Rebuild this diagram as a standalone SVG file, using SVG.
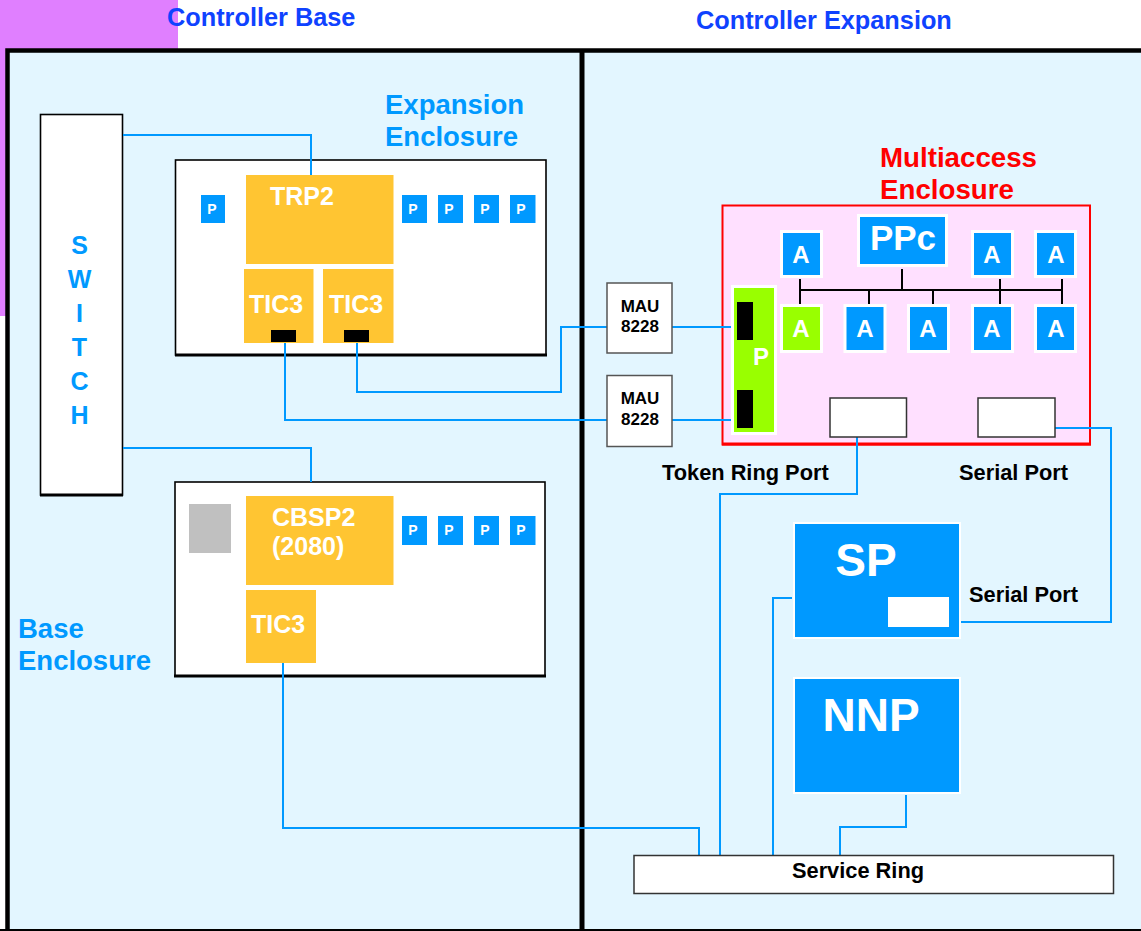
<svg xmlns="http://www.w3.org/2000/svg" width="1141" height="931" viewBox="0 0 1141 931">
<style>
text{font-family:"Liberation Sans",Arial,sans-serif;font-weight:bold}
.w{fill:#fff}.k{fill:#000}.lb{fill:#0099ff}.hd{fill:#0f42ff;font-size:25.300px}.en{fill:#0099ff;font-size:27.500px}
.box{fill:#fff;stroke:#000;stroke-width:1.600}
.or{fill:#ffc532}.bl{fill:#0099ff}.bw{fill:#0099ff;stroke:#fff;stroke-width:3}.gr{fill:#99ff00;stroke:#fff;stroke-width:3}
.bk{fill:#000}
.mau{fill:#fff;stroke:#555;stroke-width:1.500}
.port{fill:#fff;stroke:#333;stroke-width:1.500}
.c{fill:none;stroke:#0099ff;stroke-width:2}
.b{fill:none;stroke:#000;stroke-width:2}
.p{font-size:14px;fill:#fff;text-anchor:middle}
.a{font-size:24px;fill:#fff;text-anchor:middle}
.t{font-size:25px;fill:#fff}
.m{font-size:17px;fill:#000;text-anchor:middle}
.l{font-size:21.800px;fill:#000}
</style>
<g id="background">
<rect x="0" y="0" width="178" height="316" fill="#e07fff"/>
<rect x="7" y="50" width="1134" height="881" fill="#e3f6ff"/>
<path d="M7.500 931V50.500H1141" fill="none" stroke="#000" stroke-width="4.500"/>
<path d="M582 50V931" fill="none" stroke="#000" stroke-width="5"/>
<path d="M0 931H1141" fill="none" stroke="#000" stroke-width="4"/>
</g>
<g id="titles">
<text class="hd" x="167" y="26">Controller Base</text>
<text class="hd" x="696" y="29">Controller Expansion</text>
<text class="en" x="385" y="114">Expansion</text>
<text class="en" x="385" y="146">Enclosure</text>
<text class="en" x="18" y="638">Base</text>
<text class="en" x="18" y="670">Enclosure</text>
<text x="880" y="167" font-size="27.700" fill="#ff0000">Multiaccess</text>
<text x="880" y="199" font-size="27.700" fill="#ff0000">Enclosure</text>
<text class="l" x="662" y="480">Token Ring Port</text>
<text class="l" x="959" y="480">Serial Port</text>
<text class="l" x="969" y="602">Serial Port</text>
</g>
<g id="switch">
<rect class="box" x="40.500" y="114.500" width="82" height="380.500"/>
<path d="M40 495H123" stroke="#000" stroke-width="3"/>
<g font-size="25" fill="#0099ff" text-anchor="middle">
<text x="79.500" y="254">S</text><text x="79.500" y="288">W</text><text x="79.500" y="322">I</text><text x="79.500" y="356">T</text><text x="79.500" y="390">C</text><text x="79.500" y="424">H</text>
</g>
</g>
<g id="expansion-enclosure">
<rect class="box" x="175.500" y="160" width="370.500" height="195"/>
<path d="M175 355H547" stroke="#000" stroke-width="3"/>
</g>
<g id="trp2"><rect class="or" x="246" y="175" width="147.500" height="89"/><text class="t" x="270" y="205">TRP2</text></g>
<g id="tic3-a"><rect class="or" x="244" y="269" width="69.500" height="74"/><text class="t" x="249" y="313">TIC3</text><rect class="bk" x="271" y="330" width="25" height="12"/></g>
<g id="tic3-b"><rect class="or" x="323" y="269" width="70.500" height="74"/><text class="t" x="329" y="313">TIC3</text><rect class="bk" x="344" y="330" width="25" height="12"/></g>
<g id="exp-p1"><rect class="bl" x="201" y="195" width="24" height="28"/><text class="p" x="212" y="214">P</text></g>
<g id="exp-p2"><rect class="bl" x="402" y="195" width="25" height="28"/><text class="p" x="413" y="214">P</text></g>
<g id="exp-p3"><rect class="bl" x="438" y="195" width="25" height="28"/><text class="p" x="449" y="214">P</text></g>
<g id="exp-p4"><rect class="bl" x="474" y="195" width="25" height="28"/><text class="p" x="485" y="214">P</text></g>
<g id="exp-p5"><rect class="bl" x="510" y="195" width="25.500" height="28"/><text class="p" x="521" y="214">P</text></g>
<g id="base-enclosure">
<rect class="box" x="175" y="482" width="370" height="194"/>
<path d="M174 676H546" stroke="#000" stroke-width="3"/>
<rect x="189" y="504" width="42" height="49" fill="#c0c0c0"/>
</g>
<g id="cbsp2"><rect class="or" x="246" y="496" width="147.500" height="89"/><text class="t" x="272" y="526">CBSP2</text><text class="t" x="272" y="555">(2080)</text></g>
<g id="tic3-c"><rect class="or" x="246" y="590" width="70" height="73"/><text class="t" x="251" y="633">TIC3</text></g>
<g id="base-p1"><rect class="bl" x="402" y="516" width="25" height="29"/><text class="p" x="413" y="535">P</text></g>
<g id="base-p2"><rect class="bl" x="438" y="516" width="25" height="29"/><text class="p" x="449" y="535">P</text></g>
<g id="base-p3"><rect class="bl" x="474" y="516" width="25" height="29"/><text class="p" x="485" y="535">P</text></g>
<g id="base-p4"><rect class="bl" x="510" y="516" width="25.500" height="29"/><text class="p" x="521" y="535">P</text></g>
<g id="multiaccess-enclosure">
<rect x="722.500" y="205.500" width="367.500" height="239" fill="#ffe0ff" stroke="#ff0000" stroke-width="2"/>
<path d="M722 444H1091" stroke="#ff0000" stroke-width="3"/>
</g>
<g id="connectors">
<path class="c" d="M123 135H311V175"/>
<path class="c" d="M123 448H311V482"/>
<path class="c" d="M357 343V392H561V327H607"/>
<path class="c" d="M672 327H737"/>
<path class="c" d="M285 343V420H607"/>
<path class="c" d="M672 420H737"/>
<path class="c" d="M857 437V494H720V855"/>
<path class="c" d="M1055 428H1111V622H960"/>
<path class="c" d="M792 598H773V855"/>
<path class="c" d="M906 795V827H840V855"/>
<path class="c" d="M283 663V828H699V855"/>
<path class="b" d="M800 290H1062M902 269V290M800 279V304M869 290V304M933 290V304M1000 279V304M1062 279V304"/>
</g>
<g id="ppc"><rect class="bw" x="858.500" y="215.500" width="88" height="50"/><text x="903" y="250" font-size="35" fill="#fff" text-anchor="middle">PPc</text></g>
<g id="a1"><rect class="bw" x="781.500" y="231.500" width="40" height="45"/><text class="a" x="801" y="263">A</text></g>
<g id="a2"><rect class="bw" x="972.500" y="231.500" width="40" height="45"/><text class="a" x="992" y="263">A</text></g>
<g id="a3"><rect class="bw" x="1035.500" y="231.500" width="40" height="45"/><text class="a" x="1056" y="263">A</text></g>
<g id="a4"><rect class="gr" x="781.500" y="305.500" width="40" height="46"/><text class="a" x="801" y="337">A</text></g>
<g id="a5"><rect class="bw" x="845" y="305.500" width="40" height="46"/><text class="a" x="865" y="337">A</text></g>
<g id="a6"><rect class="bw" x="908.500" y="305.500" width="40" height="46"/><text class="a" x="928" y="337">A</text></g>
<g id="a7"><rect class="bw" x="972.500" y="305.500" width="40" height="46"/><text class="a" x="992" y="337">A</text></g>
<g id="a8"><rect class="bw" x="1035.500" y="305.500" width="40" height="46"/><text class="a" x="1056" y="337">A</text></g>
<g id="p-adapter"><rect class="gr" x="732.500" y="286.500" width="43" height="147"/><rect class="bk" x="737" y="302" width="16" height="38"/><rect class="bk" x="737" y="390" width="16" height="38"/><text x="761" y="365" font-size="24" fill="#fff" text-anchor="middle">P</text></g>
<g id="mau1"><rect class="mau" x="607" y="283" width="65" height="70"/><text class="m" x="640" y="312">MAU</text><text class="m" x="640" y="332">8228</text></g>
<g id="mau2"><rect class="mau" x="607" y="375.500" width="65" height="71"/><text class="m" x="640" y="404">MAU</text><text class="m" x="640" y="425">8228</text></g>
<g id="token-ring-port"><rect class="port" x="830" y="398" width="76.500" height="39"/></g>
<g id="serial-port"><rect class="port" x="978" y="398" width="77" height="39"/></g>
<g id="sp"><rect x="794" y="523" width="166" height="115" class="bl" stroke="#fff" stroke-width="2"/><text x="866" y="576" font-size="46" fill="#fff" text-anchor="middle">SP</text><rect class="w" x="888" y="597" width="61" height="30"/></g>
<g id="nnp"><rect x="794" y="678" width="166" height="115" class="bl" stroke="#fff" stroke-width="2"/><text x="871" y="731" font-size="46" fill="#fff" text-anchor="middle">NNP</text></g>
<g id="service-ring"><rect class="port" x="634" y="855.500" width="479.500" height="38"/><text class="l" x="858" y="878" text-anchor="middle">Service Ring</text></g>
</svg>
